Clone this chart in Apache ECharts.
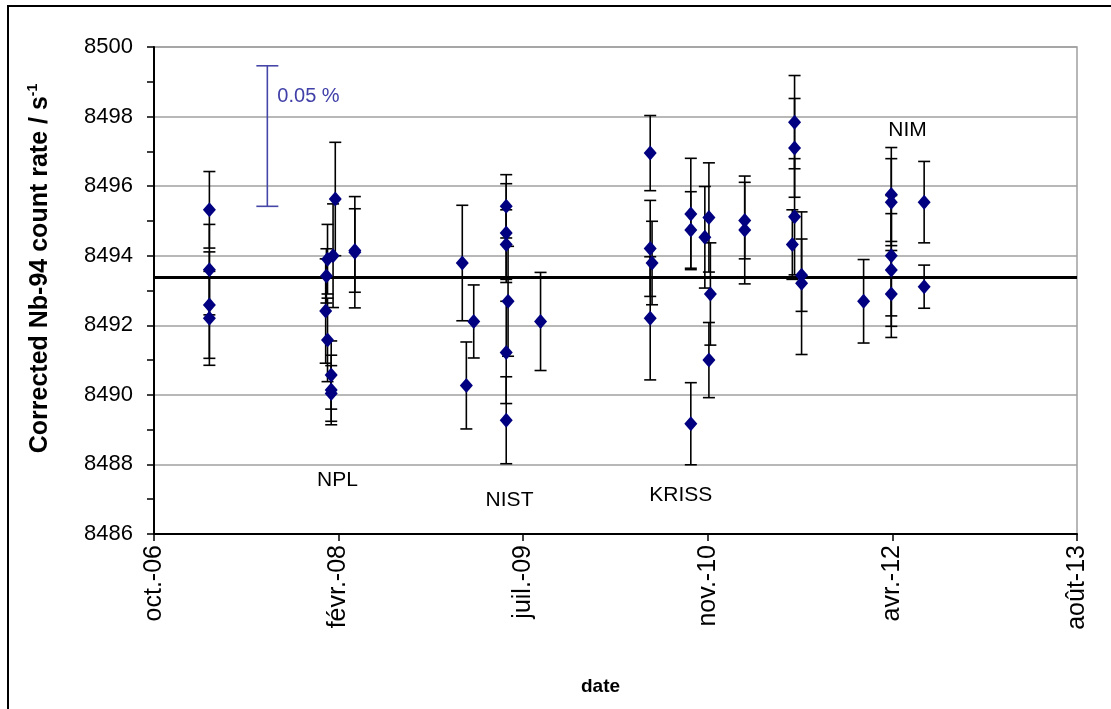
<!DOCTYPE html>
<html>
<head>
<meta charset="utf-8">
<script src="https://cdn.jsdelivr.net/npm/echarts@6/dist/echarts.min.js"></script>
<style>
  html, body { margin: 0; padding: 0; background: #fff; }
  #chart { width: 1111px; height: 709px; }
</style>
</head>
<body>
<div id="chart"></div>
<script>
// measurement dates, count rates and uncertainties (one entry per point)
const dates = [
  "2007-03-09", "2007-03-09", "2007-03-09", "2007-03-09",
  "2008-01-18", "2008-01-23", "2008-01-23", "2008-01-20", "2008-02-02", "2008-02-02", "2008-02-02",
  "2008-02-07", "2008-02-13", "2008-04-06", "2008-04-06",
  "2009-01-22", "2009-02-02", "2009-02-22", "2009-05-21", "2009-05-21", "2009-05-21", "2009-05-21",
  "2009-05-21", "2009-05-26", "2009-08-22",
  "2010-06-15", "2010-06-15", "2010-06-15", "2010-06-20", "2010-10-03", "2010-10-03", "2010-10-03",
  "2010-11-10", "2010-11-21", "2010-11-21", "2010-11-25", "2011-02-26", "2011-02-26",
  "2011-07-05", "2011-07-11", "2011-07-11", "2011-07-11", "2011-07-30", "2011-07-30",
  "2012-01-14", "2012-03-29", "2012-03-29", "2012-03-29", "2012-03-29", "2012-03-29",
  "2012-06-26", "2012-06-26"
];
const rates = [
  8495.32, 8493.60, 8492.58, 8492.20,
  8492.41, 8493.90, 8491.58, 8493.42, 8490.57, 8490.14, 8490.04,
  8494.00, 8495.63, 8494.10, 8494.15,
  8493.79, 8490.27, 8492.11, 8495.42, 8494.65, 8494.32, 8491.22,
  8489.27, 8492.69, 8492.11,
  8496.95, 8494.21, 8492.20, 8493.79, 8495.20, 8494.74, 8489.17,
  8494.53, 8495.10, 8491.00, 8492.90, 8495.01, 8494.74,
  8494.32, 8497.84, 8497.10, 8495.12, 8493.44, 8493.21,
  8492.69, 8495.76, 8495.54, 8494.00, 8493.59, 8492.90,
  8495.54, 8493.11
];
const uncertainties = [
  1.10, 1.30, 1.53, 1.35,
  1.50, 1.00, 1.20, 0.78, 0.98, 1.00, 0.80,
  1.49, 1.63, 1.60, 1.20,
  1.66, 1.25, 1.05, 0.91, 1.42, 1.00, 1.47,
  1.25, 1.58, 1.41,
  1.08, 1.38, 1.77, 1.20, 1.60, 1.10, 1.18,
  1.46, 1.57, 1.08, 1.47, 1.10, 1.55,
  1.00, 1.34, 1.42, 1.67, 1.04, 2.05,
  1.20, 1.35, 1.25, 1.73, 1.62, 1.25,
  1.17, 0.62
];
const meanRate = 8493.37;

// scale bar showing 0.05 % of the count rate
const scaleDate = "2007-08-13";
const scaleCentre = 8497.44;
const scaleHalf = 2.02;

// laboratory names
const labNames = ["NPL", "NIST", "KRISS", "NIM"];
const labDates = ["2008-02-19", "2009-05-30", "2010-09-06", "2012-05-12"];
const labRates = [8487.55, 8486.97, 8487.12, 8497.62];

const frMonths = ["janv.", "févr.", "mars", "avr.", "mai", "juin",
  "juil.", "août", "sept.", "oct.", "nov.", "déc."];

// spreadsheet-style day numbers (days since 1899-12-30)
const DAY = 86400000;
const EPOCH = Date.UTC(1899, 11, 30);
function toSerial(s) {
  const p = s.split("-").map(Number);
  return (Date.UTC(p[0], p[1] - 1, p[2]) - EPOCH) / DAY;
}
function serialLabel(v) {
  const d = new Date(EPOCH + v * DAY);
  return frMonths[d.getUTCMonth()] + "-" + String(d.getUTCFullYear()).slice(2);
}

const points = dates.map((d, i) => [toSerial(d), rates[i], uncertainties[i]]);

function errorBar(color, lineWidth, half) {
  return function (params, api) {
    const x = api.value(0), y = api.value(1), e = api.value(2);
    const top = api.coord([x, y + e]);
    const bot = api.coord([x, y - e]);
    const st = { stroke: color, lineWidth: lineWidth };
    return {
      type: "group",
      children: [
        { type: "line", shape: { x1: top[0], y1: top[1], x2: bot[0], y2: bot[1] }, style: st },
        { type: "line", shape: { x1: top[0] - half, y1: top[1], x2: top[0] + half, y2: top[1] }, style: st },
        { type: "line", shape: { x1: bot[0] - half, y1: bot[1], x2: bot[0] + half, y2: bot[1] }, style: st }
      ]
    };
  };
}

const chart = echarts.init(document.getElementById("chart"));
const font = "Liberation Sans, Arial, sans-serif";

chart.setOption({
  backgroundColor: "#fff",
  animation: false,
  grid: {
    left: 154, right: 34, top: 47, bottom: 175,
    show: true, borderColor: "#a0a0a0", borderWidth: 1.5
  },
  xAxis: {
    type: "value",
    min: 39000, max: 41500, interval: 500,
    name: "date",
    nameLocation: "middle",
    nameGap: 143,
    nameTextStyle: {
      fontFamily: font, fontSize: 19, fontWeight: "bold", color: "#000",
      padding: [0, 30, 0, 0]
    },
    axisLine: { lineStyle: { color: "#000", width: 2 } },
    axisTick: { show: true, length: 7, lineStyle: { color: "#000", width: 1.5 } },
    axisLabel: {
      rotate: 90, margin: 11, color: "#000",
      fontFamily: font, fontSize: 25,
      formatter: serialLabel
    },
    splitLine: { show: false }
  },
  yAxis: {
    type: "value",
    min: 8486, max: 8500, interval: 2,
    name: "Corrected Nb-94 count rate / s{sup|-1}",
    nameLocation: "middle",
    nameGap: 100,
    nameTextStyle: {
      fontFamily: font, fontSize: 25, fontWeight: "bold", color: "#000",
      padding: [0, 0, 0, 44],
      rich: { sup: { fontFamily: font, fontSize: 14, fontWeight: "bold", verticalAlign: "top", padding: [0, 0, 14, 0] } }
    },
    axisLine: { show: true, lineStyle: { color: "#000", width: 2 } },
    axisTick: { show: true, length: 7, lineStyle: { color: "#000", width: 1.5 } },
    minorTick: { show: true, splitNumber: 2, length: 7, lineStyle: { color: "#000", width: 1.5 } },
    axisLabel: {
      margin: 21, color: "#000", fontFamily: font, fontSize: 22,
      formatter: v => String(v)
    },
    splitLine: { show: true, lineStyle: { color: "#a0a0a0", width: 1.5 } }
  },
  series: [
    {
      type: "custom",
      name: "uncertainty",
      renderItem: errorBar("#000", 1.6, 6),
      data: points,
      encode: { x: 0, y: 1 },
      z: 2,
      silent: true,
      markLine: {
        silent: true,
        symbol: "none",
        label: { show: false },
        lineStyle: { color: "#000", width: 3, type: "solid" },
        data: [{ yAxis: meanRate }]
      }
    },
    {
      type: "scatter",
      name: "count rate",
      data: points.map(p => [p[0], p[1]]),
      symbol: "diamond",
      symbolSize: [13, 15],
      itemStyle: { color: "#000080", opacity: 1 },
      z: 5
    },
    {
      type: "custom",
      name: "0.05 %",
      renderItem: errorBar("#4646a8", 1.6, 11),
      data: [[toSerial(scaleDate), scaleCentre, scaleHalf]],
      encode: { x: 0, y: 1 },
      silent: true,
      z: 3
    },
    {
      type: "scatter",
      name: "scale text",
      symbolSize: 0,
      silent: true,
      itemStyle: { opacity: 1 },
      data: [[toSerial(scaleDate), scaleCentre + 1.13]],
      label: {
        show: true, position: "right", distance: 10,
        formatter: "0.05 %",
        color: "#4040a8", fontFamily: font, fontSize: 20
      }
    },
    {
      type: "scatter",
      name: "labs",
      symbolSize: 0,
      silent: true,
      itemStyle: { opacity: 1 },
      data: labNames.map((n, i) => ({ name: n, value: [toSerial(labDates[i]), labRates[i]] })),
      label: {
        show: true, position: "inside",
        formatter: "{b}",
        color: "#000", textBorderWidth: 0, fontFamily: font, fontSize: 21
      }
    }
  ],
  graphic: [
    {
      type: "rect",
      shape: { x: 8, y: 6, width: 1130, height: 730 },
      style: { fill: "none", stroke: "#000", lineWidth: 2 },
      silent: true
    }
  ]
});
</script>
</body>
</html>
